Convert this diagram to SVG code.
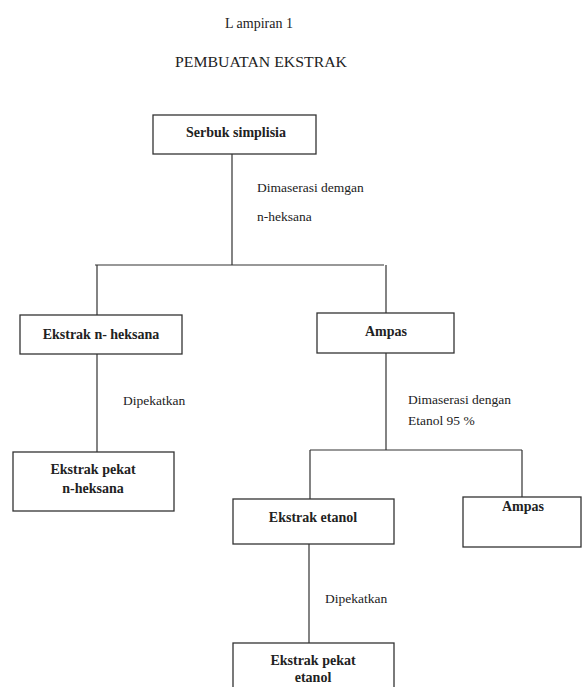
<svg xmlns="http://www.w3.org/2000/svg" width="582" height="687" viewBox="0 0 582 687">
<style>
.box{fill:#fff;stroke:#333;stroke-width:1.3}
.lbl{font-family:"Liberation Serif","Times New Roman","DejaVu Serif",serif;font-weight:bold;font-size:14px;fill:#222;text-anchor:middle}
.note{font-family:"Liberation Serif","Times New Roman","DejaVu Serif",serif;font-size:13.5px;fill:#222}
.ttl{font-family:"Liberation Serif","Times New Roman","DejaVu Serif",serif;font-size:14px;fill:#222;text-anchor:middle}
.con{stroke:#333;stroke-width:1.2;fill:none}
</style>
<rect width="582" height="687" fill="#fff"/>
<text class="ttl" x="259" y="28">L ampiran  1</text>
<text class="ttl" x="261" y="67" textLength="172" lengthAdjust="spacingAndGlyphs">PEMBUATAN  EKSTRAK</text>
<g id="connectors">
<path class="con" d="M232 154V265M95 265H384M97 265V315M386 265V313M97 354V452M386 353V450M310 450H522M310 450V499M522 450V497M309 544V643"/>
</g>
<g id="n1"><rect class="box" x="153" y="115" width="163" height="39"/><text class="lbl" x="236" y="137">Serbuk simplisia</text></g>
<g id="n2"><rect class="box" x="20" y="315" width="162" height="39"/><text class="lbl" x="101" y="339">Ekstrak n- heksana</text></g>
<g id="n3"><rect class="box" x="317" y="313" width="137" height="40"/><text class="lbl" x="386" y="336">Ampas</text></g>
<g id="n4"><rect class="box" x="13" y="452" width="161" height="59"/><text class="lbl" x="93" y="474">Ekstrak pekat</text><text class="lbl" x="93" y="493">n-heksana</text></g>
<g id="n5"><rect class="box" x="233" y="499" width="161" height="45"/><text class="lbl" x="313" y="522">Ekstrak etanol</text></g>
<g id="n6"><rect class="box" x="463" y="497" width="118" height="50"/><text class="lbl" x="523" y="511">Ampas</text></g>
<g id="n7"><rect class="box" x="233" y="643" width="161" height="50"/><text class="lbl" x="313" y="665">Ekstrak pekat</text><text class="lbl" x="313" y="682">etanol</text></g>
<g id="notes">
<text class="note" x="257" y="192">Dimaserasi demgan</text>
<text class="note" x="257" y="221">n-heksana</text>
<text class="note" x="123" y="405">Dipekatkan</text>
<text class="note" x="408" y="404">Dimaserasi dengan</text>
<text class="note" x="408" y="425">Etanol 95 %</text>
<text class="note" x="325" y="603">Dipekatkan</text>
</g>
</svg>
